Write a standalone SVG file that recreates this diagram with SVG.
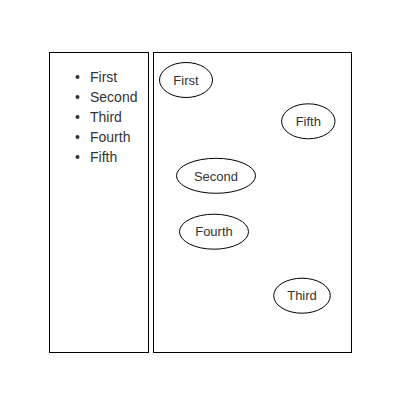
<svg xmlns="http://www.w3.org/2000/svg" width="400" height="400" viewBox="0 0 400 400">
<style>
.panel{fill:#fff;stroke:#000;stroke-width:1}
.node ellipse{fill:#fff;stroke:#000;stroke-width:1}
.node text{font-family:"Liberation Sans",Arial,sans-serif;font-size:13px;fill:#333;text-anchor:middle}
.list text{font-family:"Liberation Sans",Arial,sans-serif;font-size:14px;fill:#333}
.list circle{fill:#333}
</style>
<rect width="400" height="400" fill="#fff"/>
<rect class="panel" x="49.5" y="52.5" width="99" height="300"/>
<rect class="panel" x="153.5" y="52.5" width="198" height="300"/>
<g class="list" id="list">
<circle cx="77.5" cy="77" r="2"/><text x="90" y="82">First</text>
<circle cx="77.5" cy="97" r="2"/><text x="90" y="102">Second</text>
<circle cx="77.5" cy="117" r="2"/><text x="90" y="122">Third</text>
<circle cx="77.5" cy="137" r="2"/><text x="90" y="142">Fourth</text>
<circle cx="77.5" cy="157" r="2"/><text x="90" y="162">Fifth</text>
</g>
<g id="connectors"></g>
<g class="node" id="node-first"><ellipse cx="186" cy="80" rx="26.5" ry="17.5"/><text x="186" y="84.7">First</text></g>
<g class="node" id="node-fifth"><ellipse cx="308.3" cy="121.3" rx="26.7" ry="17.5"/><text x="308.3" y="126">Fifth</text></g>
<g class="node" id="node-second"><ellipse cx="216" cy="175.8" rx="39.5" ry="17.5"/><text x="216" y="180.5">Second</text></g>
<g class="node" id="node-fourth"><ellipse cx="214" cy="231.7" rx="34.5" ry="17.5"/><text x="214" y="236.4">Fourth</text></g>
<g class="node" id="node-third"><ellipse cx="302" cy="295.7" rx="28.3" ry="17.5"/><text x="302" y="300.4">Third</text></g>
</svg>
